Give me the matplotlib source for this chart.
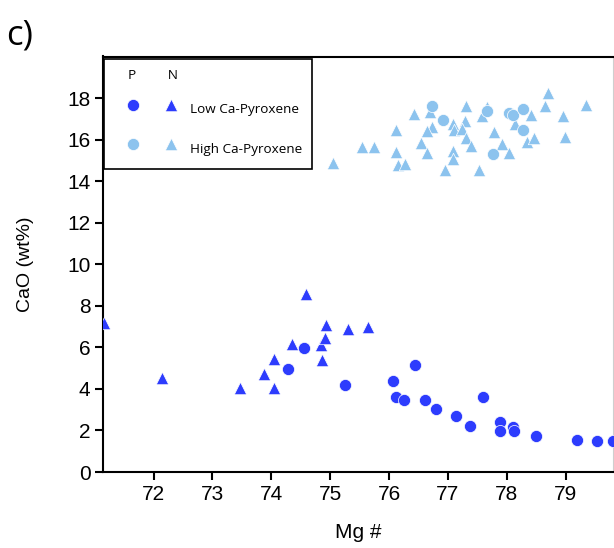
import matplotlib
matplotlib.use("Agg")
from matplotlib import pyplot as plt
from matplotlib.legend_handler import HandlerTuple

# Colours of the two groups
dark_blue = '#2d3cfd'
light_blue = '#8cc3ee'

# Low Ca-Pyroxene, P (circles)
low_p_mg = [74.28, 74.55, 75.26, 76.06, 76.44, 76.12, 76.26, 76.61, 76.79, 77.13,
            77.37, 77.59, 77.88, 77.88, 78.10, 78.12, 78.50, 79.19, 79.53, 79.80]
low_p_cao = [4.97, 5.95, 4.18, 4.39, 5.16, 3.59, 3.45, 3.48, 3.01, 2.71,
             2.21, 3.59, 2.39, 1.99, 2.15, 1.99, 1.71, 1.55, 1.51, 1.47]

# Low Ca-Pyroxene, N (triangles)
low_n_mg = [71.16, 72.14, 73.46, 73.88, 74.05, 74.05, 74.35, 74.59, 74.84, 74.86,
            74.92, 74.93, 75.31, 75.65]
low_n_cao = [7.15, 4.53, 4.02, 4.71, 4.05, 5.42, 6.14, 8.59, 6.11, 5.38,
             6.46, 7.07, 6.88, 7.00]

# High Ca-Pyroxene, P (circles)
high_p_mg = [76.73, 76.92, 77.67, 78.03, 78.10, 78.27, 78.27, 77.77]
high_p_cao = [17.64, 16.96, 17.37, 17.27, 17.20, 17.45, 16.44, 15.29]

# High Ca-Pyroxene, N (triangles)
high_n_mg = [75.05, 75.54, 75.74, 76.12, 76.12, 76.16, 76.27, 76.43, 76.70, 76.73,
             76.64, 76.55, 76.64, 76.95, 77.09, 77.10, 77.09, 77.09, 77.30, 77.29,
             77.24, 77.30, 77.39, 77.53, 77.58, 77.67, 77.79, 77.92, 78.04, 78.14,
             78.41, 78.34, 78.46, 78.65, 78.70, 78.95, 78.99, 79.34]
high_n_cao = [14.87, 15.64, 15.64, 16.44, 15.40, 14.76, 14.84, 17.21, 17.32, 16.63,
              16.41, 15.85, 15.35, 14.52, 16.76, 16.44, 15.45, 15.08, 17.64, 16.89,
              16.52, 16.09, 15.67, 14.55, 17.16, 17.56, 16.36, 15.80, 15.35, 16.76,
              17.20, 15.88, 16.09, 17.60, 18.25, 17.16, 16.12, 17.68]

x_ticks = [72, 73, 74, 75, 76, 77, 78, 79]
y_ticks = [0, 2, 4, 6, 8, 10, 12, 14, 16, 18]

W, H = 614, 548
fig = plt.figure(figsize=(W / 100, H / 100), dpi=100)
ax = fig.add_axes([103 / W, 1 - 472 / H, (613 - 103) / W, (472 - 56.5) / H])

tri_size = 80
dot_size = 76
lp_n = ax.scatter(low_n_mg, low_n_cao, marker='^', s=tri_size, c=dark_blue,
                  edgecolors='white', linewidths=0.5, zorder=3)
lp_p = ax.scatter(low_p_mg, low_p_cao, marker='o', s=dot_size, c=dark_blue,
                  edgecolors='white', linewidths=0.5, zorder=4)
hp_n = ax.scatter(high_n_mg, high_n_cao, marker='^', s=tri_size, c=light_blue,
                  edgecolors='white', linewidths=0.5, zorder=3)
hp_p = ax.scatter(high_p_mg, high_p_cao, marker='o', s=dot_size, c=light_blue,
                  edgecolors='white', linewidths=0.5, zorder=4)

ax.set_xlim(71.14, 79.805)
ax.set_ylim(0, 20)
ax.set_xticks(x_ticks)
ax.set_yticks(y_ticks)

tick_font = 'Liberation Sans'
ax.tick_params(axis='both', direction='out', length=6, width=1.5,
               labelsize=15, pad=3)
for lab in ax.get_xticklabels() + ax.get_yticklabels():
    lab.set_family(tick_font)

for side in ['left', 'bottom', 'top']:
    ax.spines[side].set_linewidth(1.5)
    ax.spines[side].set_color('black')
ax.spines['right'].set_linewidth(0.8)
ax.spines['right'].set_color('#cfcfcf')

ax.set_xlabel('Mg #', fontsize=15, family=tick_font, labelpad=14)
ax.set_ylabel('CaO (wt%)', fontsize=14, family=tick_font, labelpad=24)

# Legend: P (circle) and N (triangle) side by side for each group
leg = ax.legend([(lp_p, lp_n), (hp_p, hp_n)],
                ['Low Ca-Pyroxene', 'High Ca-Pyroxene'],
                handler_map={tuple: HandlerTuple(ndivide=None, pad=0)},
                loc='upper left', bbox_to_anchor=(0.002, 0.994),
                borderaxespad=0, fancybox=False, framealpha=1,
                edgecolor='black', prop={'family': 'Open Sans', 'size': 9.7},
                handlelength=5.6, handleheight=2.1, handletextpad=0.0,
                labelspacing=1.35, borderpad=0.75,
                title='    P         N', alignment='left',
                title_fontproperties={'family': 'Open Sans', 'size': 9.7})
leg.get_frame().set_linewidth(1.2)
# tighter gap between the P / N header and the first row
leg._legend_box.sep = 11.2

fig.text(6 / W, 1 - 36 / H, 'c)', fontsize=25, family='Open Sans',
         va='center', ha='left')

fig.savefig('out.png', dpi=100)
